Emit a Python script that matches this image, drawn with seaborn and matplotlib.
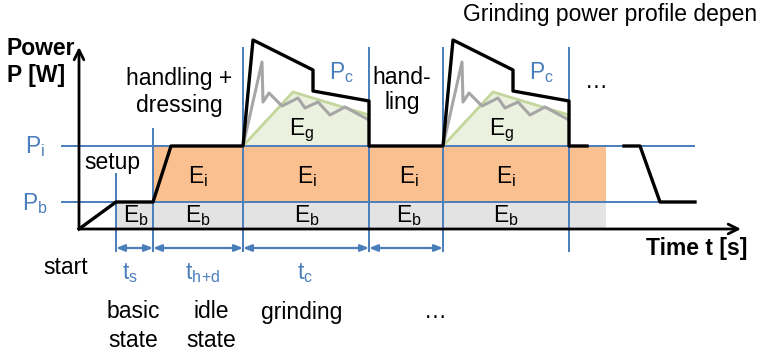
import numpy as np
import seaborn as sns
import matplotlib.pyplot as plt

# time axis (arbitrary units, origin at axis corner) and power levels
P_b = 27
P_i = 83
t_setup = 37
t_idle = 74
t_end_fill = 527
grind_starts = [164, 364]
grind_len = 126

# main black power profile
t_profile = [0, 37, 74, 92, 164, 174, 234, 234, 290, 290, 364, 374, 434, 434, 490, 490, 508]
p_profile = [0, 27, 27, 83, 83, 189, 159, 138, 128, 83, 83, 189, 159, 138, 128, 83, 83]
t_tail = [545, 561, 581, 616]
p_tail = [83, 83, 27, 27]

# measured grinding power (gray) and grinding energy envelope (green), relative to cycle start
gray_dt = [0, 19, 20, 26, 39, 55, 62, 75, 87, 102, 126]
gray_p = [83, 167, 127, 136, 123, 131, 121, 127, 114, 122, 109]
green_dt = [0, 50, 126]
green_p = [83, 137, 114]

# period arrows and vertical markers
arrow_spans = [(37, 74), (74, 164), (164, 290), (290, 364)]
vlines_t = [37, 74, 164, 290, 364, 490]
vlines_top = [56, 101, 182, 182, 182, 182]

# labels
e_i_pos = [119, 228, 330, 427]
e_b_pos = [57, 119, 228, 330, 427]
bottom_t = [51, 124, 226]
bottom_lbl = [r'$t_s$', r'$t_{h\!+\!d}$', r'$t_c$']

blue = '#4a7ebb'
orange = '#fac090'
grey_fill = '#e3e3e3'
green_fill = '#ebf1de'
green_line = '#c3d69b'
grey_line = '#a6a6a6'

plt.rcParams['font.family'] = ['Liberation Sans', 'DejaVu Sans']
plt.rcParams['mathtext.default'] = 'regular'
fs = 16.5

fig = plt.figure(figsize=(7.63, 3.52), dpi=100)
ax = fig.add_axes([0, 0, 1, 1])
ax.set_xlim(-79, 684)
ax.set_ylim(-123, 229)
ax.axis('off')

# energy areas
ax.fill_between([t_setup, t_end_fill], 0, P_b, color=grey_fill, lw=0)
ax.fill_between([t_idle, t_end_fill], P_b, P_i, color=orange, lw=0)
for s in grind_starts:
    gx = np.array(green_dt) + s
    ax.fill_between(gx, P_i, green_p, color=green_fill, lw=0)

# blue reference lines
ax.hlines([P_i, P_b], -18, 616, color=blue, lw=1.4)
for t, top in zip(vlines_t, vlines_top):
    ax.vlines(t, -23, top, color=blue, lw=1.4)
for a, b in arrow_spans:
    ax.annotate('', xy=(b, -19), xytext=(a, -19),
                arrowprops=dict(arrowstyle='<|-|>,head_length=0.5,head_width=0.2',
                                color=blue, lw=1.6, shrinkA=0, shrinkB=0))

# grinding curves
for s in grind_starts:
    sns.lineplot(x=np.array(green_dt) + s, y=green_p, sort=False, estimator=None,
                 color=green_line, lw=2, ax=ax)
    sns.lineplot(x=np.array(gray_dt) + s, y=gray_p, sort=False, estimator=None,
                 color=grey_line, lw=2.2, ax=ax)

# power profile
sns.lineplot(x=t_profile, y=p_profile, sort=False, estimator=None, color='black', lw=2.4, ax=ax)
sns.lineplot(x=t_tail, y=p_tail, sort=False, estimator=None, color='black', lw=2.4, ax=ax)

# axes arrows
ax.annotate('', xy=(0, 182), xytext=(0, 0),
            arrowprops=dict(arrowstyle='->,head_length=0.7,head_width=0.35', color='black', lw=2,
                            shrinkA=0, shrinkB=0))
ax.annotate('', xy=(662, 0), xytext=(0, 0),
            arrowprops=dict(arrowstyle='->,head_length=0.7,head_width=0.35', color='black', lw=2,
                            shrinkA=0, shrinkB=0))

# texts
ax.text(-72, 167, 'Power\nP [W]', fontsize=fs, fontweight='bold', ha='left', va='center', linespacing=1.25)
ax.text(618, -19, 'Time t [s]', fontsize=fs, fontweight='bold', ha='center', va='center')
ax.text(384, 214, 'Grinding power profile depen', fontsize=fs, ha='left', va='center')
ax.text(100, 137, 'handling +\ndressing', fontsize=fs, ha='center', va='center', linespacing=1.2)
ax.text(323, 139, 'hand-\nling', fontsize=fs, ha='center', va='center', linespacing=1.1)
ax.text(33, 67, 'setup', fontsize=fs, ha='center', va='center')
ax.text(517, 148, '…', fontsize=fs, ha='center', va='center')
ax.text(-44, 76, r'$P_i$', fontsize=fs, color=blue, ha='center', va='baseline')
ax.text(-44, 19, r'$P_b$', fontsize=fs, color=blue, ha='center', va='baseline')
for s in grind_starts:
    ax.text(s + 99, 150, r'$P_c$', fontsize=fs, color=blue, ha='center', va='baseline')
    ax.text(s + 59, 94, r'$E_g$', fontsize=fs, ha='center', va='baseline')
for t in e_i_pos:
    ax.text(t, 46, r'$E_i$', fontsize=fs, ha='center', va='baseline')
for t in e_b_pos:
    ax.text(t, 7, r'$E_b$', fontsize=fs, ha='center', va='baseline')
ax.text(-13, -38, 'start', fontsize=fs, ha='center', va='center')
for t, lbl in zip(bottom_t, bottom_lbl):
    ax.text(t, -50, lbl, fontsize=fs, color=blue, ha='center', va='baseline')
ax.text(54, -97, 'basic\nstate', fontsize=fs, ha='center', va='center', linespacing=1.3)
ax.text(132, -97, 'idle\nstate', fontsize=fs, ha='center', va='center', linespacing=1.3)
ax.text(223, -83, 'grinding', fontsize=fs, ha='center', va='center')
ax.text(356, -83, '…', fontsize=fs, ha='center', va='center')

fig.savefig('out.png', dpi=100)
